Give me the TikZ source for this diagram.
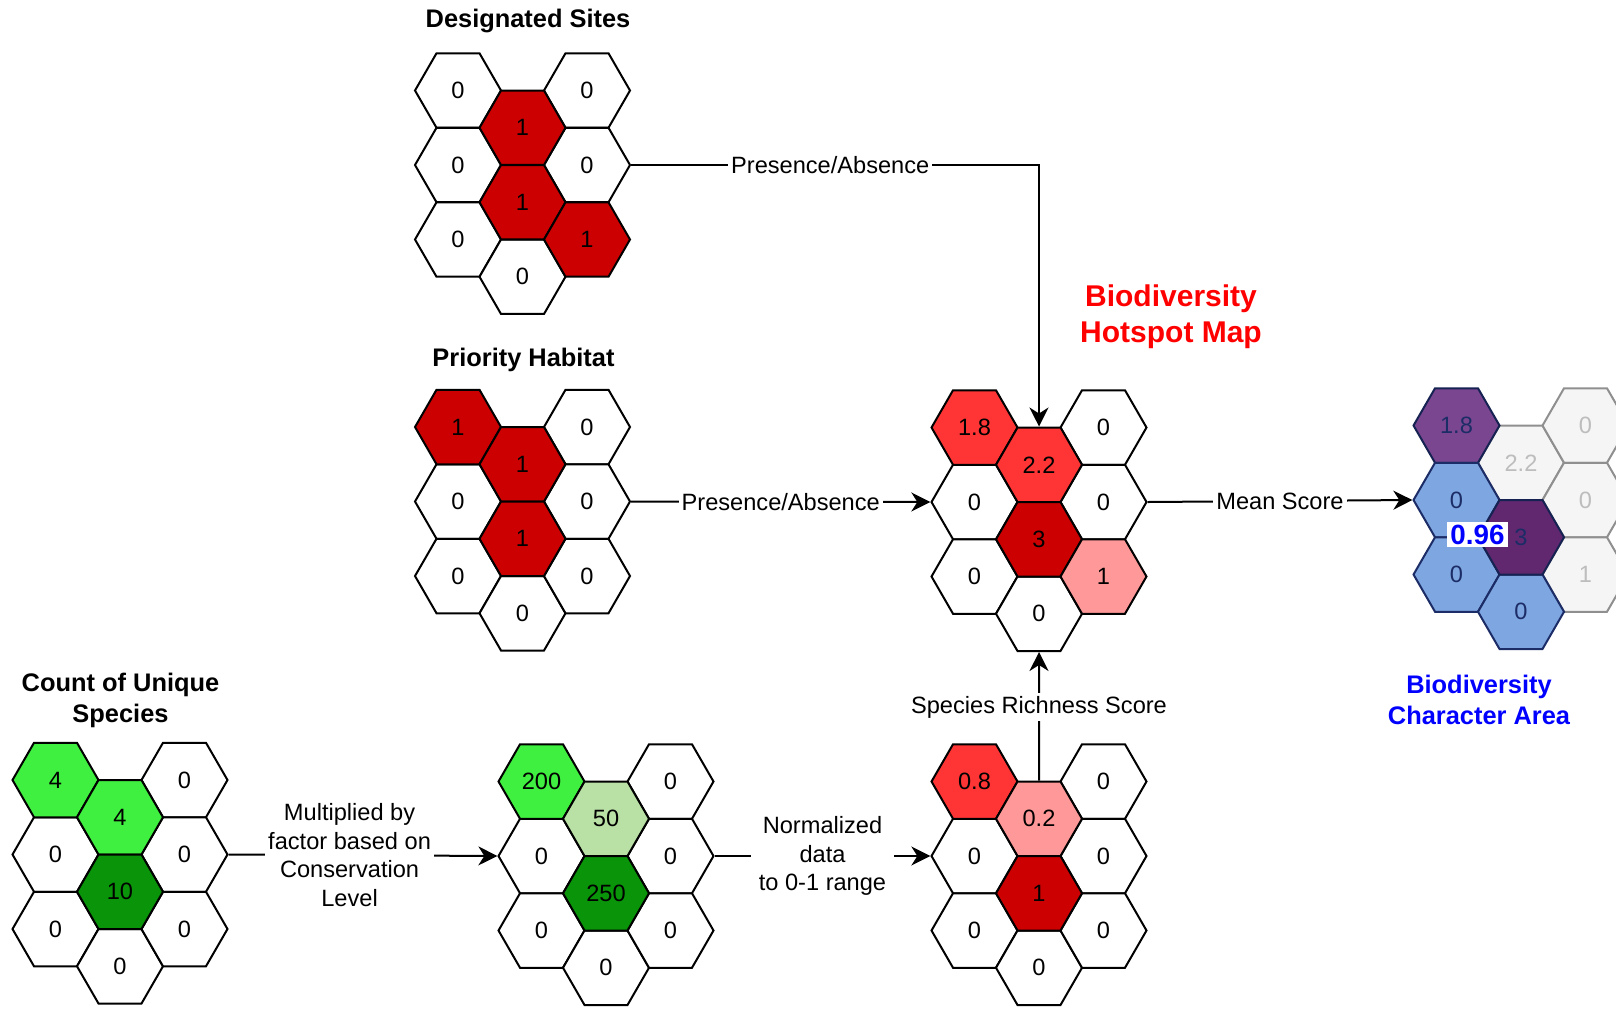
\documentclass[tikz,border=0pt]{standalone}
\usepackage{fontspec}
\setmainfont{Liberation Sans}
\usetikzlibrary{shapes.geometric,arrows.meta}

\definecolor{redD}{HTML}{CC0000}
\definecolor{redM}{HTML}{FF3535}
\definecolor{redL}{HTML}{FF9999}
\definecolor{greenB}{HTML}{40F040}
\definecolor{greenD}{HTML}{0A940A}
\definecolor{greenL}{HTML}{B9E0A5}
\definecolor{skyF}{HTML}{7EA6E0}
\definecolor{plumF}{HTML}{7A4690}
\definecolor{grapeF}{HTML}{62286F}
\definecolor{navyT}{HTML}{1C2C66}
\definecolor{ghostF}{HTML}{F5F5F5}
\definecolor{ghostD}{HTML}{8F8F8F}
\definecolor{ghostT}{HTML}{BDBDBD}

\newcommand{\hexmap}[4]{%
    \foreach \c/\r/\v/\f in {#4}{
        \node[hex,\f] (#1-\c-\r) at ({#2+64.5*\c},{#3+74.5*\r+37.25*mod(\c,2)}) {\v};
    }
}

\begin{document}
\begin{tikzpicture}[x=0.5pt,y=-0.5pt,
        >={Stealth[length=9.5pt,width=9.5pt,inset=3pt]},
        hex/.style={regular polygon, regular polygon sides=6, minimum size=43pt,
            inner sep=0pt, draw, line width=1pt, fill=white,
            font=\fontsize{11.8}{14}\selectfont},
        hwhite/.style={},
        hdark/.style={fill=redD},
        hmid/.style={fill=redM},
        hpink/.style={fill=redL},
        hlime/.style={fill=greenB},
        hforest/.style={fill=greenD},
        hsage/.style={fill=greenL},
        hsky/.style={fill=skyF, draw=navyT, text=navyT},
        hplum/.style={fill=plumF, draw=navyT!80!black, text=navyT},
        hgrape/.style={fill=grapeF, draw=navyT!80!black, text=navyT},
        hghost/.style={fill=ghostF, draw=ghostD, text=ghostT},
        title/.style={font=\bfseries\fontsize{12.7}{15.5}\selectfont, align=center},
        lbl/.style={fill=white, inner sep=1.5pt, align=center,
            font=\fontsize{11.8}{14.3}\selectfont},
        conn/.style={line width=1pt, ->}]

    \useasboundingbox (0,0) rectangle (1616,1008);

    \hexmap{ds}{458}{90.5}{0/0/0/hwhite, 0/1/0/hwhite, 0/2/0/hwhite, 1/2/0/hwhite,
        2/0/0/hwhite, 2/1/0/hwhite, 1/0/1/hdark, 1/1/1/hdark, 2/2/1/hdark}
    \hexmap{ph}{458}{427}{0/1/0/hwhite, 0/2/0/hwhite, 1/2/0/hwhite, 2/0/0/hwhite,
        2/1/0/hwhite, 2/2/0/hwhite, 0/0/1/hdark, 1/0/1/hdark, 1/1/1/hdark}
    \hexmap{hs}{974.5}{427.5}{0/1/0/hwhite, 0/2/0/hwhite, 1/2/0/hwhite, 2/0/0/hwhite,
        2/1/0/hwhite, 0/0/1.8/hmid, 1/0/2.2/hmid, 1/1/3/hdark, 2/2/1/hpink}
    \hexmap{ca}{1456.5}{425.5}{1/0/2.2/hghost, 2/0/0/hghost, 2/1/0/hghost, 2/2/1/hghost,
        0/0/1.8/hplum, 0/1/0/hsky, 0/2/0/hsky, 1/2/0/hsky, 1/1/3/hgrape}
    \hexmap{cu}{55.5}{780}{0/1/0/hwhite, 0/2/0/hwhite, 1/2/0/hwhite, 2/0/0/hwhite,
        2/1/0/hwhite, 2/2/0/hwhite, 0/0/4/hlime, 1/0/4/hlime, 1/1/10/hforest}
    \hexmap{mf}{541.5}{781.5}{0/1/0/hwhite, 0/2/0/hwhite, 1/2/0/hwhite, 2/0/0/hwhite,
        2/1/0/hwhite, 2/2/0/hwhite, 0/0/200/hlime, 1/0/50/hsage, 1/1/250/hforest}
    \hexmap{nd}{974.5}{781.5}{0/1/0/hwhite, 0/2/0/hwhite, 1/2/0/hwhite, 2/0/0/hwhite,
        2/1/0/hwhite, 2/2/0/hwhite, 0/0/0.8/hmid, 1/0/0.2/hpink, 1/1/1/hdark}

    \node[title] (dstitle) at (528,21) {Designated Sites};
    \node[title] (phtitle) at (523.5,360) {Priority Habitat};
    \node[title] (cutitle) at (120.5,700) {Count of Unique\\Species};
    \node[title, text=red, font=\bfseries\fontsize{15}{18}\selectfont] (hstitle) at (1171,317)
        {Biodiversity\\Hotspot Map};
    \node[title, text=blue] (catitle) at (1479,700) {Biodiversity\\Character Area};
    \node[fill=white, inner sep=1.5pt, text=blue, font=\bfseries\fontsize{13.9}{16}\selectfont]
        (score) at (1477.5,534.5) {0.96};

    \draw[conn] (ds-2-1.east) -| node[lbl, pos=0.244] {Presence/Absence} (hs-1-0.north);
    \draw[conn] (ph-2-1.east) -- node[lbl] {Presence/Absence} (hs-0-1.west);
    \draw[conn] (hs-2-1.east) -- node[lbl] {Mean Score} (ca-0-1.west);
    \draw[conn] (nd-1-0.north) -- node[lbl, pos=0.57] {Species Richness Score} (hs-1-2.south);
    \draw[conn] (cu-2-1.east) -- node[lbl, pos=0.45]
        {Multiplied by\\factor based on\\Conservation\\Level} (mf-0-1.west);
    \draw[conn] (mf-2-1.east) -- node[lbl, inner sep=4pt] {Normalized\\data\\to 0-1 range} (nd-0-1.west);
\end{tikzpicture}
\end{document}
